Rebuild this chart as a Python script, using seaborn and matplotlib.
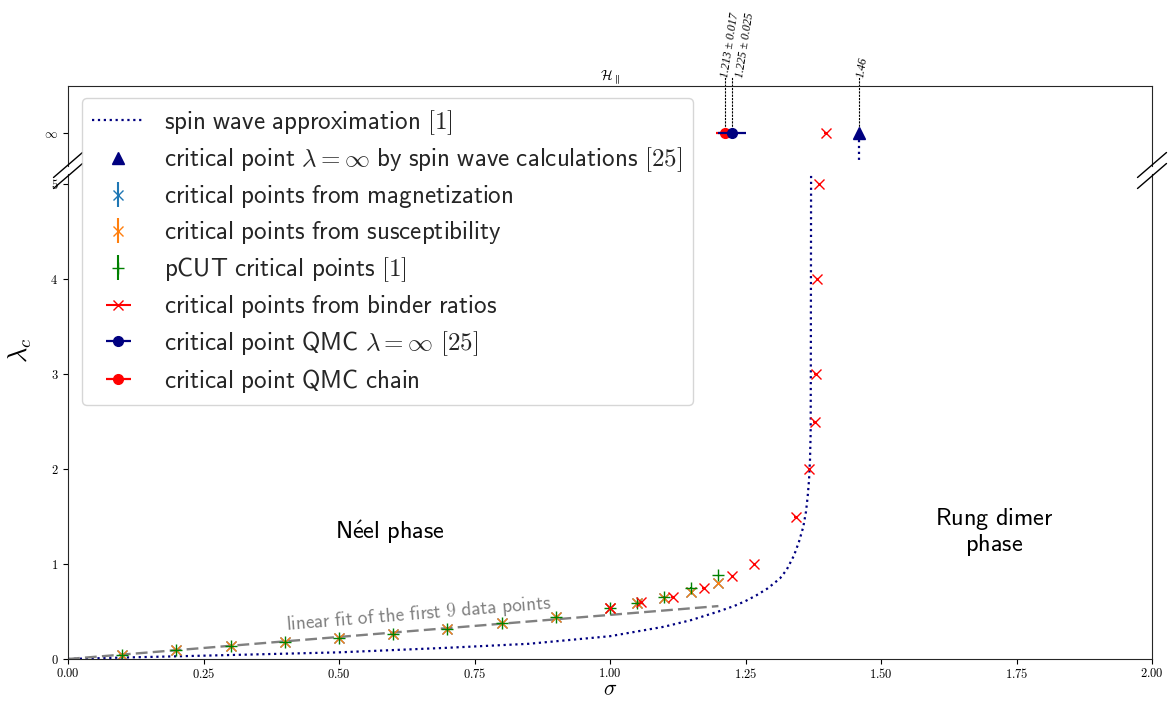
import numpy as np
import matplotlib
matplotlib.use('Agg')
import matplotlib.pyplot as plt
import seaborn as sns
from matplotlib.lines import Line2D
from matplotlib.ticker import FixedLocator, FuncFormatter

# --- data ---
# spin wave approximation [1]
sw_sigma = [0.0, 0.1, 0.25, 0.5, 0.7, 0.85, 1.0, 1.1, 1.15, 1.2, 1.23, 1.25, 1.27, 1.29, 1.30,
            1.3137, 1.326, 1.3395, 1.3487, 1.3567, 1.3616, 1.3647, 1.3672, 1.369, 1.3702, 1.3705, 1.371]
sw_lambda = [0.0, 0.015, 0.035, 0.07, 0.118, 0.16, 0.24, 0.34, 0.41, 0.5, 0.56, 0.61, 0.67, 0.74, 0.785,
             0.849, 0.94, 1.09, 1.235, 1.393, 1.551, 1.709, 1.884, 2.095, 2.376, 3.0, 5.1]
# spin wave curve close to lambda = infinity (top panel)
sw_inf_sigma = [1.46, 1.46]
sw_inf_pos = [-0.15, -0.62]

sigma_pts = [0.1, 0.2, 0.3, 0.4, 0.5, 0.6, 0.7, 0.8, 0.9, 1.0, 1.05, 1.1, 1.15, 1.2]
mag_lambda = [0.042, 0.095, 0.137, 0.176, 0.218, 0.263, 0.316, 0.375, 0.445, 0.533, 0.586, 0.64, 0.708, 0.80]
mag_err = [0.005] * len(sigma_pts)
sus_lambda = [0.042, 0.095, 0.137, 0.176, 0.218, 0.263, 0.316, 0.375, 0.445, 0.533, 0.586, 0.64, 0.708, 0.80]
sus_err = [0.005] * len(sigma_pts)
pcut_lambda = [0.042, 0.095, 0.137, 0.176, 0.218, 0.263, 0.316, 0.375, 0.445, 0.533, 0.586, 0.656, 0.75, 0.884]
pcut_err = [0.005] * len(sigma_pts)

binder_sigma = [1.0, 1.057, 1.116, 1.173, 1.226, 1.266, 1.343, 1.368, 1.378, 1.380, 1.3825, 1.386]
binder_lambda = [0.533, 0.597, 0.656, 0.75, 0.877, 1.0, 1.5, 2.0, 2.5, 3.0, 4.0, 5.0]
binder_err = [0.003] * len(binder_sigma)
binder_inf_sigma = 1.398

sw_inf_crit = 1.46
qmc_inf, qmc_inf_err = 1.225, 0.025
qmc_chain, qmc_chain_err = 1.213, 0.017

INF = 0.0  # position of lambda = infinity on the top panel

# linear fit (through the origin) of the first 9 data points
x9 = np.array(sigma_pts[:9])
y9 = np.array(mag_lambda[:9])
fit_slope = np.sum(x9 * y9) / np.sum(x9 ** 2)
fit_x = np.array([0.0, 1.2])


def sf(s):
    return r'$\mathsf{' + s.replace(' ', r'\ ') + '}$'


sns.set_style('ticks')
plt.rcParams['mathtext.fontset'] = 'cm'

W, H = 1169, 702
fig = plt.figure(figsize=(W / 100, H / 100), dpi=100)


def box(l, t, r, b):
    return [l / W, 1 - b / H, (r - l) / W, (b - t) / H]


ax_top = fig.add_axes(box(68, 86, 1152, 166))
ax = fig.add_axes(box(68, 174.5, 1152, 659))

# --- main panel ---
sns.lineplot(x=sw_sigma, y=sw_lambda, ax=ax, color='navy', linestyle=':', linewidth=1.6,
             sort=False, estimator=None)
h_sw = Line2D([], [], color='navy', linestyle=':', linewidth=1.6)

sns.lineplot(x=fit_x, y=fit_slope * fit_x, ax=ax, color='gray', linewidth=1.7,
             dashes=(5, 2.2), sort=False, estimator=None)

h_mag = ax.errorbar(sigma_pts, mag_lambda, yerr=mag_err, fmt='x', color='tab:blue', ms=7)
h_sus = ax.errorbar(sigma_pts, sus_lambda, yerr=sus_err, fmt='x', color='tab:orange', ms=7)
h_pcut = ax.errorbar(sigma_pts, pcut_lambda, yerr=pcut_err, fmt='+', color='green', ms=8)
h_bind = ax.errorbar(binder_sigma, binder_lambda, xerr=binder_err, fmt='x', color='red', ms=7)

ax.set_xlim(0, 2)
ax.set_ylim(0, 5.1)
ax.xaxis.set_major_locator(FixedLocator(np.arange(0, 2.01, 0.25)))
ax.yaxis.set_major_locator(FixedLocator(range(0, 6)))
ax.xaxis.set_major_formatter(FuncFormatter(lambda v, p: f'${v:.2f}$'))
ax.yaxis.set_major_formatter(FuncFormatter(lambda v, p: f'${v:.0f}$'))
ax.tick_params(labelsize=9, colors='k')
ax.tick_params(axis='x', pad=2.5)
ax.spines['top'].set_visible(False)
ax.set_xlabel(r'$\sigma$', fontsize=15.5, color='k', va='center')
ax.xaxis.set_label_coords(0.5, -0.0619)
ax.set_ylabel(r'$\lambda_c$', fontsize=19, color='k')
ax.yaxis.set_label_coords(-0.031, 0.638)

ax.text(0.594, 1.33, sf(r'N\acute{e}el phase'), ha='center', va='center', fontsize=17.5, color='k')
ax.text(1.708, 1.34, sf('Rung dimer') + '\n' + sf('phase'), ha='center', va='center',
        multialignment='center', linespacing=1.0, fontsize=17.5, color='k')
ax.text(0.404, 0.305, sf('linear fit of the first 9 data points'), color='gray', fontsize=13.8,
        rotation=np.degrees(np.arctan(fit_slope)), transform_rotates_text=True,
        rotation_mode='anchor', ha='left', va='baseline')

# --- top panel (lambda = infinity) ---
ax_top.plot(sw_inf_sigma, sw_inf_pos, color='navy', linestyle=':', linewidth=1.6)
ax_top.errorbar([binder_inf_sigma], [INF], xerr=[binder_err[0]], fmt='x', color='red', ms=7)
h_tri, = ax_top.plot([sw_inf_crit], [INF], '^', color='navy', ms=8, zorder=4)
h_chain = ax_top.errorbar([qmc_chain], [INF], xerr=[qmc_chain_err], fmt='o', color='red', ms=7,
                          elinewidth=1.6, zorder=3)
h_qmc = ax_top.errorbar([qmc_inf], [INF], xerr=[qmc_inf_err], fmt='o', color='navy', ms=7,
                        elinewidth=1.6, zorder=4)

annot_x = [qmc_chain, qmc_inf, sw_inf_crit]
annot_txt = ['1.213 ± 0.017', '1.225 ± 0.025', '1.46']
annot_shift = [0.0, 0.014, 0.003]  # label offsets so the two close labels do not overlap
for xv, t, dx in zip(annot_x, annot_txt, annot_shift):
    ax_top.plot([xv, xv], [INF, 1.2], color='k', linestyle=(0, (2, 1)), linewidth=0.8,
                clip_on=False, zorder=1)
    ax_top.text(xv + dx, 1.19, t, rotation=81, rotation_mode='anchor', ha='left', va='center',
                fontsize=8.5, family='Liberation Serif', style='italic', color='k', clip_on=False)

ax_top.set_xlim(0, 2)
ax_top.set_ylim(-0.7, 1.0)
ax_top.set_yticks([INF])
ax_top.set_yticklabels([r'$\infty$'])
ax_top.tick_params(axis='x', bottom=False, labelbottom=False)
ax_top.tick_params(labelsize=9, colors='k')
ax_top.spines['bottom'].set_visible(False)
ax_top.set_title(r'$\mathcal{H}_\parallel$', fontsize=10, pad=3, color='k')

# break marks
for xc in (68, 1152):
    for yc in (165, 176):
        fig.add_artist(Line2D([(xc - 14.5) / W, (xc + 14.5) / W],
                              [1 - (yc + 12.5) / H, 1 - (yc - 12.5) / H],
                              transform=fig.transFigure, color='k', linewidth=1))

if ax.get_legend() is not None:
    ax.get_legend().remove()

handles = [h_sw, h_tri, h_mag, h_sus, h_pcut, h_bind, h_qmc, h_chain]
labels = [sf('spin wave approximation [1]'),
          sf('critical point ') + r'$\lambda=\infty$' + sf(' by spin wave calculations [25]'),
          sf('critical points from magnetization'),
          sf('critical points from susceptibility'),
          sf('pCUT critical points [1]'),
          sf('critical points from binder ratios'),
          sf('critical point QMC ') + r'$\lambda=\infty$' + sf(' [25]'),
          sf('critical point QMC chain')]
fig.legend(handles, labels, loc='upper left', bbox_to_anchor=(82 / W, 1 - 98 / H),
           borderaxespad=0, fontsize=18, frameon=True, handlelength=2.1, handletextpad=0.8,
           labelspacing=0.36)

fig.savefig('out.png', dpi=100)
